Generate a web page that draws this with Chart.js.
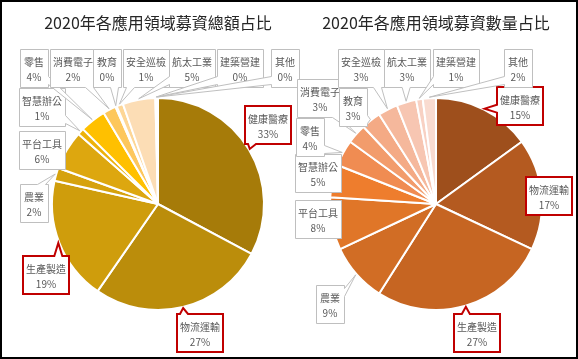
<!DOCTYPE html>
<html><head><meta charset="utf-8">
<script src="https://cdn.jsdelivr.net/npm/chart.js@4/dist/chart.umd.min.js"></script>
<style>
html,body{margin:0;padding:0;background:#fff;}
#wrap{position:relative;width:578px;height:359px;overflow:hidden;background:#fff;}
canvas{position:absolute;left:0;top:0;}
#frame{position:absolute;left:0;top:0;width:578px;height:359px;box-sizing:border-box;border:2px solid #000;pointer-events:none;}
</style></head><body>
<div id="wrap"><canvas id="c1" width="578" height="359"></canvas><canvas id="c2" width="578" height="359"></canvas><div id="frame"></div></div>
<script>
// ---- data ----
const categories = ['健康醫療','物流運輸','生產製造','農業','平台工具','智慧辦公','零售','消費電子','教育','安全巡檢','航太工業','建築營建','其他'];
const amountShare = [33, 27, 19, 2, 6, 1, 4, 2, 0.2, 1, 5, 0.2, 0.2];
const countShare  = [15, 17, 27, 9, 8, 5, 4, 3, 3, 3, 3, 1, 2];
const titles = ['2020年各應用領域募資總額占比', '2020年各應用領域募資數量占比'];
const highlighted = ['健康醫療','物流運輸','生產製造'];

// ---- styles / layout ----
const goldColors = ['#A67B09','#BB8D0B','#CF9D0C','#D6A20D','#DDA70F','#EDB20A','#FFC000','#FDC75C','#FDCF78','#FDD696','#FCDDB5','#FDE4C7','#FEEAD5'];
const rustColors = ['#9E4F1C','#B45A20','#C66522','#D16D25','#E07628','#EE7D2D','#F08C52','#F29C6C','#F4AA85','#F5B89C','#F7C6B2','#F8D1C3','#F9DBD0'];
// label box [centerX, top] in page pixels, same order as categories
const leftBoxes  = [[268,106],[200,314],[46,256],[34,184],[42,131],[42,88],[34,49],[73,49],[107,49],[146,49],[192,49],[240,49],[285,49]];
const rightBoxes = [[520,87],[549,177],[477,314],[330,285],[318,200],[318,154],[310,118],[320,79],[353,88],[361,49],[407,49],[456,49],[518,49]];

const FONT = '"Noto Sans CJK TC","Noto Sans CJK SC",sans-serif';

function calloutPath(ctx, x, y, w, h, tx, ty, bw) {
  const inside = tx > x - 2 && tx < x + w + 2 && ty > y - 2 && ty < y + h + 2;
  ctx.beginPath();
  if (inside) { ctx.rect(x, y, w, h); return; }
  const cx = x + w/2, cy = y + h/2;
  const rx = (tx - cx)/(w/2), ry = (ty - cy)/(h/2);
  const clamp = (v, a, b) => Math.max(a, Math.min(b, v));
  let side;
  if (Math.abs(rx) > Math.abs(ry)) side = rx > 0 ? 'r' : 'l'; else side = ry > 0 ? 'b' : 't';
  const pts = [];
  pts.push([x, y]);
  if (side === 't') { const m = clamp(tx, x + bw/2 + 3, x + w - bw/2 - 3); pts.push([m - bw/2, y],[tx, ty],[m + bw/2, y]); }
  pts.push([x + w, y]);
  if (side === 'r') { const m = clamp(ty, y + bw/2 + 3, y + h - bw/2 - 3); pts.push([x + w, m - bw/2],[tx, ty],[x + w, m + bw/2]); }
  pts.push([x + w, y + h]);
  if (side === 'b') { const m = clamp(tx, x + bw/2 + 3, x + w - bw/2 - 3); pts.push([m + bw/2, y + h],[tx, ty],[m - bw/2, y + h]); }
  pts.push([x, y + h]);
  if (side === 'l') { const m = clamp(ty, y + bw/2 + 3, y + h - bw/2 - 3); pts.push([x, m + bw/2],[tx, ty],[x, m - bw/2]); }
  ctx.moveTo(pts[0][0], pts[0][1]);
  for (let k = 1; k < pts.length; k++) ctx.lineTo(pts[k][0], pts[k][1]);
  ctx.closePath();
}

const calloutPlugin = {
  id: 'callouts',
  afterDatasetsDraw(chart, args, opts) {
    const ctx = chart.ctx;
    const meta = chart.getDatasetMeta(0);
    const ds = chart.data.datasets[0];
    const area = chart.chartArea;
    ctx.save();
    ctx.font = '16px ' + FONT;
    ctx.fillStyle = '#262626';
    ctx.textAlign = 'center';
    ctx.textBaseline = 'middle';
    ctx.fillText(opts.title, (area.left + area.right)/2, 23);
    ctx.font = '10px ' + FONT;
    chart.data.labels.forEach((name, i) => {
      const p = meta.data[i].getProps(['x','y','startAngle','endAngle','outerRadius'], true);
      const mid = (p.startAngle + p.endAngle)/2;
      const tx = p.x + Math.cos(mid)*(p.outerRadius + 1);
      const ty = p.y + Math.sin(mid)*(p.outerRadius + 1);
      const pct = Math.round(ds.data[i]) + '%';
      const w = Math.max(28, Math.round(Math.max(ctx.measureText(name).width, ctx.measureText(pct).width) + 6));
      const [bx, by] = opts.boxes[i];
      const hi = highlighted.includes(name);
      const off = hi ? 0 : 0.5;
      const x = Math.round(bx - w/2) + off, y = by + off, h = 38;
      calloutPath(ctx, x, y, w, h, tx, ty, 8);
      ctx.fillStyle = '#fff';
      ctx.fill();
      ctx.lineWidth = hi ? 2 : 1;
      ctx.strokeStyle = hi ? '#C00000' : '#BFBFBF';
      ctx.lineJoin = 'miter';
      ctx.stroke();
      ctx.fillStyle = '#595959';
      ctx.fillText(name, bx, by + 13);
      ctx.fillText(pct, bx, by + 28.5);
    });
    ctx.restore();
  }
};

function makePie(id, values, colors, title, boxes, pad) {
  return new Chart(document.getElementById(id), {
    type: 'pie',
    data: { labels: categories, datasets: [{ data: values, backgroundColor: colors, borderColor: '#fff', borderWidth: 2 }] },
    options: {
      responsive: false, animation: false, devicePixelRatio: 1,
      layout: { padding: pad },
      plugins: { legend: { display: false }, tooltip: { enabled: false }, title: { display: false },
                 callouts: { title: title, boxes: boxes } },
      events: []
    },
    plugins: [calloutPlugin]
  });
}
makePie('c1', amountShare, goldColors, titles[0], leftBoxes, { left: 51, right: 313, top: 97, bottom: 48 });
makePie('c2', countShare, rustColors, titles[1], rightBoxes, { left: 329, right: 35, top: 97, bottom: 48 });
</script>
</body></html>
